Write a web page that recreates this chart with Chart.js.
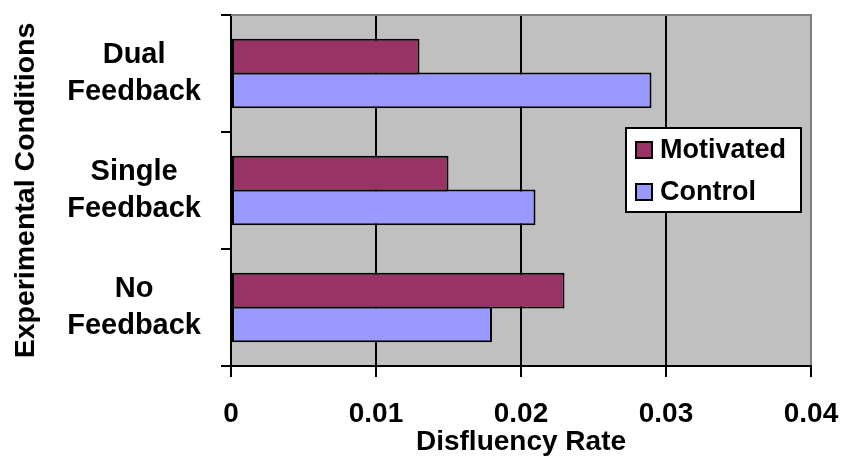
<!DOCTYPE html>
<html>
<head>
<meta charset="utf-8">
<script src="https://cdn.jsdelivr.net/npm/chart.js@4.4.1/dist/chart.umd.min.js"></script>
<style>
  html, body { margin: 0; padding: 0; background: #ffffff; }
  canvas { display: block; }
</style>
</head>
<body>
<canvas id="chart" width="844" height="460"></canvas>
<script>
// Disfluency rate by feedback condition, motivated vs. control groups
const categories = [['Dual', 'Feedback'], ['Single', 'Feedback'], ['No', 'Feedback']];
const seriesNames = ['Motivated', 'Control'];
const motivated = [0.013, 0.015, 0.023];
const control = [0.029, 0.021, 0.018];
const xTickValues = [0, 0.01, 0.02, 0.03, 0.04];
const xTickLabels = ['0', '0.01', '0.02', '0.03', '0.04'];

const FONT = '"Liberation Sans", Arial, Helvetica, sans-serif';
const seriesColors = ['#993366', '#9999FF'];

// grey plot area with a thin grey frame on the top and right edges
const plotFrame = {
  id: 'plotFrame',
  beforeDraw(chart) {
    const { ctx, chartArea: a } = chart;
    ctx.save();
    ctx.fillStyle = '#C0C0C0';
    ctx.fillRect(a.left, a.top, a.right - a.left, a.bottom - a.top);
    ctx.restore();
  },
  beforeDatasetsDraw(chart) {
    const { ctx, chartArea: a } = chart;
    ctx.save();
    ctx.strokeStyle = '#808080';
    ctx.lineWidth = 2;
    ctx.beginPath();
    ctx.moveTo(a.left, a.top);
    ctx.lineTo(a.right, a.top);
    ctx.lineTo(a.right, a.bottom - 1);
    ctx.stroke();
    ctx.restore();
  }
};

// boxed legend sitting inside the plot area
const boxedLegend = {
  id: 'boxedLegend',
  afterDraw(chart) {
    const { ctx, chartArea: a } = chart;
    const x = a.right - 185, y = a.top + 113, w = 175, h = 84;
    ctx.save();
    ctx.fillStyle = '#ffffff';
    ctx.fillRect(x, y, w, h);
    ctx.strokeStyle = '#000000';
    ctx.lineWidth = 2;
    ctx.strokeRect(x, y, w, h);
    ctx.font = 'bold 27px ' + FONT;
    ctx.textBaseline = 'middle';
    ctx.textAlign = 'left';
    chart.data.datasets.forEach((ds, i) => {
      const cy = y + 22 + i * 42;
      ctx.fillStyle = ds.backgroundColor;
      ctx.fillRect(x + 10, cy - 8, 16, 16);
      ctx.lineWidth = 2;
      ctx.strokeStyle = '#000000';
      ctx.strokeRect(x + 10, cy - 8, 16, 16);
      ctx.fillStyle = '#000000';
      ctx.fillText(ds.label, x + 34, cy + 1);
    });
    ctx.restore();
  }
};

new Chart(document.getElementById('chart'), {
  type: 'bar',
  data: {
    labels: categories,
    datasets: [
      {
        label: seriesNames[0],
        data: motivated,
        backgroundColor: seriesColors[0],
        borderColor: '#000000',
        borderWidth: 2,
        borderSkipped: false
      },
      {
        label: seriesNames[1],
        data: control,
        backgroundColor: seriesColors[1],
        borderColor: '#000000',
        borderWidth: 2,
        borderSkipped: false
      }
    ]
  },
  options: {
    indexAxis: 'y',
    responsive: false,
    animation: false,
    devicePixelRatio: 1,
    layout: { padding: { top: 15, right: 33, bottom: 0, left: 0 } },
    datasets: {
      bar: { categoryPercentage: 0.575, barPercentage: 1.06 }
    },
    plugins: {
      legend: { display: false },
      tooltip: { enabled: false }
    },
    scales: {
      x: {
        type: 'linear',
        min: 0,
        max: 0.04,
        afterBuildTicks(scale) {
          scale.ticks = xTickValues.map(v => ({ value: v }));
        },
        afterFit(scale) {
          scale.height = 94;
          scale.paddingLeft = 0;
          scale.paddingRight = 0;
        },
        grid: {
          color: '#000000',
          lineWidth: 2,
          drawTicks: true,
          tickLength: 11
        },
        border: { display: true, color: '#000000', width: 2 },
        ticks: {
          padding: 20,
          color: '#000000',
          font: { family: FONT, size: 28, weight: 'bold' },
          maxRotation: 0,
          callback: (v, i) => xTickLabels[i]
        },
        title: {
          display: true,
          text: 'Disfluency Rate',
          color: '#000000',
          font: { family: FONT, size: 28, weight: 'bold' },
          padding: { top: 0, bottom: 1 }
        }
      },
      y: {
        afterFit(scale) {
          scale.width = 231;
          scale.paddingTop = 0;
          scale.paddingBottom = 0;
        },
        grid: {
          drawOnChartArea: false,
          drawTicks: true,
          tickLength: 10,
          color: '#000000',
          lineWidth: 2
        },
        border: { display: true, color: '#000000', width: 2 },
        ticks: {
          crossAlign: 'center',
          padding: 20,
          color: '#000000',
          font: { family: FONT, size: 29, weight: 'bold', lineHeight: 1.25 }
        },
        title: {
          display: true,
          text: 'Experimental Conditions',
          color: '#000000',
          font: { family: FONT, size: 28.5, weight: 'bold' },
          padding: { top: 9, bottom: 0 }
        }
      }
    }
  },
  plugins: [plotFrame, boxedLegend]
});
</script>
</body>
</html>
